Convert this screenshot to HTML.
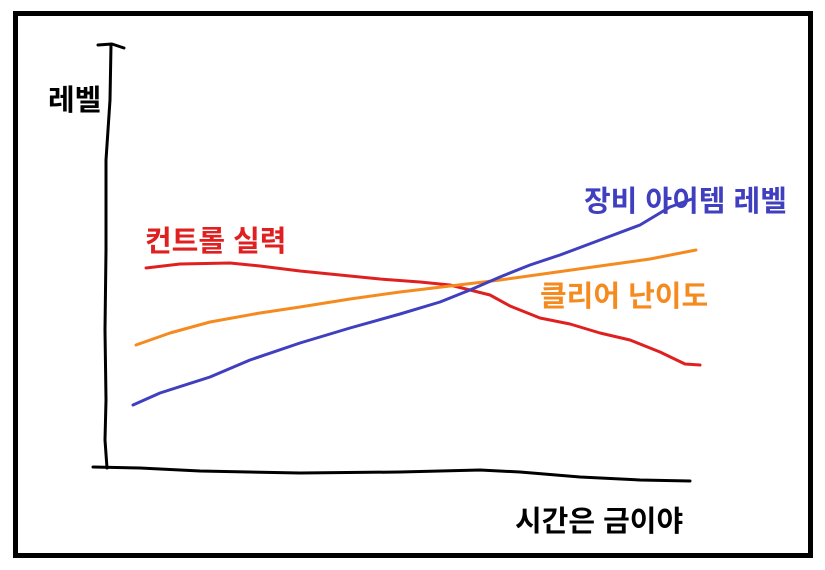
<!DOCTYPE html>
<html><head><meta charset="utf-8"><style>
html,body{margin:0;padding:0;background:#fff;}
svg{display:block}
text{font-family:"Liberation Sans","Noto Sans CJK KR","NanumGothic",sans-serif;font-weight:bold;}
</style></head><body>
<svg width="825" height="570" viewBox="0 0 825 570" xmlns="http://www.w3.org/2000/svg">
<rect x="0" y="0" width="825" height="570" fill="#fff"/>
<rect x="15.5" y="13.5" width="795" height="542" fill="none" stroke="#000" stroke-width="5"/>
<g fill="none" stroke-linecap="round" stroke-linejoin="round" stroke-width="3">
<path d="M98 45 L112 44 L124 48" stroke="#000"/>
<path d="M111 45 L110 100 L106 160 L106 250 L105 330 L106 400 L105 440 L107 468" stroke="#000"/>
<path d="M93 467 L140 468 L200 471 L300 473 L400 472 L480 470 L520 472 L580 477 L640 480 L690 481" stroke="#000"/>
<path d="M146 268 L180 264 L230 263 L260 266 L300 271 L340 275 L380 279 L420 282 L450 285 L470 290 L490 295 L510 306 L540 318 L570 324 L600 333 L630 340 L660 352 L685 364 L700 365" stroke="#e02020"/>
<path d="M136 345 L170 333 L210 322 L260 313 L300 307 L350 299 L400 292 L450 286 L500 280 L550 273 L600 266 L650 259 L696 250" stroke="#f58a1f"/>
<path d="M133 405 L160 393 L210 377 L250 360 L300 343 L350 328 L400 314 L440 302 L470 290 L500 277 L530 265 L560 255 L600 240 L640 225 L670 207 L692 199" stroke="#3f3fbf"/>
</g>
<text x="48" y="110" font-size="29" fill="#000">레벨</text>
<text x="515" y="531" font-size="29" fill="#000">시간은 금이야</text>
<text x="145" y="251" font-size="29" fill="#e02020">컨트롤 실력</text>
<text x="584" y="211" font-size="29" fill="#3f3fbf">장비 아이템 레벨</text>
<text x="540" y="306" font-size="29" fill="#f58a1f">클리어 난이도</text>
</svg>
</body></html>
